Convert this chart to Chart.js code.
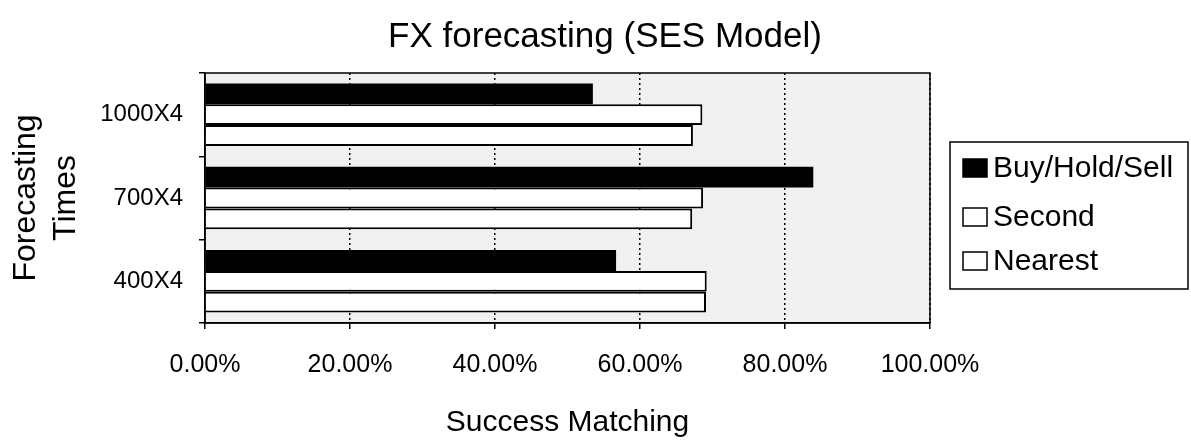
<!DOCTYPE html>
<html>
<head>
<meta charset="utf-8">
<script src="https://cdn.jsdelivr.net/npm/chart.js@4.4.0/dist/chart.umd.min.js"></script>
<style>
  html, body { margin: 0; padding: 0; background: #ffffff; }
  #wrap { width: 1191px; height: 441px; position: relative; }
</style>
</head>
<body>
<div id="wrap"><canvas id="chart" width="1191" height="441"></canvas></div>
<script>
// Categories (top to bottom) and the three series of success ratios
const categories = ['1000X4', '700X4', '400X4'];
const buyHoldSell = [0.535, 0.839, 0.567];
const secondVals  = [0.686, 0.687, 0.692];
const nearestVals = [0.673, 0.672, 0.691];
const seriesNames = ['Buy/Hold/Sell', 'Second', 'Nearest'];
const xTickValues = [0, 0.2, 0.4, 0.6, 0.8, 1.0];

const FONT = "'Liberation Sans', Arial, Helvetica, sans-serif";
const chartTitle = 'FX forecasting (SES Model)';

// Plot-area fill, outer frame, title and boxed legend
const decorations = {
  id: 'decorations',
  beforeDraw(chart) {
    const { ctx, chartArea: a } = chart;
    ctx.save();
    ctx.fillStyle = '#ffffff';
    ctx.fillRect(0, 0, chart.width, chart.height);
    ctx.fillStyle = '#f0f0f0';
    ctx.fillRect(a.left, a.top, a.right - a.left, a.bottom - a.top);
    ctx.restore();
  },
  afterDraw(chart) {
    const { ctx, chartArea: a } = chart;
    ctx.save();
    // frame around the plot
    ctx.strokeStyle = '#000';
    ctx.lineWidth = 1.5;
    ctx.strokeRect(a.left, a.top, a.right - a.left, a.bottom - a.top);

    // title
    ctx.fillStyle = '#000';
    ctx.font = `35px ${FONT}`;
    ctx.textAlign = 'center';
    ctx.textBaseline = 'middle';
    ctx.fillText(chartTitle, 605, 37);

    // legend box
    const box = { x: 950, y: 142, w: 238, h: 147 };
    ctx.fillStyle = '#fff';
    ctx.fillRect(box.x, box.y, box.w, box.h);
    ctx.lineWidth = 1.5;
    ctx.strokeStyle = '#000';
    ctx.strokeRect(box.x, box.y, box.w, box.h);
    const rowsY = [168, 217, 261];
    ctx.font = `30px ${FONT}`;
    ctx.textAlign = 'left';
    ctx.textBaseline = 'middle';
    chart.data.datasets.forEach((ds, i) => {
      const y = rowsY[i];
      ctx.fillStyle = ds.backgroundColor;
      ctx.fillRect(963, y - 9, 24, 18);
      ctx.strokeStyle = '#000';
      ctx.lineWidth = 1.5;
      ctx.strokeRect(963, y - 9, 24, 18);
      ctx.fillStyle = '#000';
      ctx.fillText(ds.label, 993, y + 1);
    });
    ctx.restore();
  }
};

const ctx = document.getElementById('chart').getContext('2d');
new Chart(ctx, {
  type: 'bar',
  data: {
    labels: categories,
    datasets: [
      { label: seriesNames[0], data: buyHoldSell, backgroundColor: '#000000', borderColor: '#000000', borderWidth: 0 },
      { label: seriesNames[1], data: secondVals,  backgroundColor: '#ffffff', borderColor: '#000000', borderWidth: 2 },
      { label: seriesNames[2], data: nearestVals, backgroundColor: '#ffffff', borderColor: '#000000', borderWidth: 2 }
    ]
  },
  options: {
    indexAxis: 'y',
    responsive: false,
    animation: false,
    devicePixelRatio: 1,
    categoryPercentage: 0.75,
    barPercentage: 1.0,
    layout: { padding: { left: 0, right: 261, top: 73, bottom: 0 } },
    plugins: {
      legend: { display: false },
      title: { display: false },
      tooltip: { enabled: false }
    },
    scales: {
      x: {
        type: 'linear',
        min: 0,
        max: 1,
        afterBuildTicks(scale) { scale.ticks = xTickValues.map(v => ({ value: v })); },
        afterFit(scale) { scale.height = 118; },
        ticks: {
          color: '#000',
          font: { family: FONT, size: 25 },
          padding: 21,
          maxRotation: 0,
          callback: v => (v * 100).toFixed(2) + '%'
        },
        grid: {
          color: '#000',
          lineWidth: 1.5,
          tickBorderDash: [],
          tickColor: '#000',
          tickLength: 6,
          drawTicks: true
        },
        border: { display: true, color: '#000', width: 1.5, dash: [2, 3] },
        title: {
          display: true,
          text: 'Success Matching',
          color: '#000',
          font: { family: FONT, size: 30, lineHeight: 1.2 },
          padding: { top: 0, bottom: 0 }
        }
      },
      y: {
        type: 'category',
        afterFit(scale) { scale.width = 205; },
        ticks: {
          color: '#000',
          font: { family: FONT, size: 24 },
          padding: 16
        },
        grid: {
          offset: true,
          drawOnChartArea: false,
          drawTicks: true,
          tickLength: 6,
          tickColor: '#000',
          lineWidth: 1.5
        },
        border: { display: true, color: '#000', width: 1.5 },
        title: {
          display: true,
          text: ['Forecasting', 'Times'],
          color: '#000',
          font: { family: FONT, size: 32, lineHeight: 1.25 },
          padding: { top: 6, bottom: 0 }
        }
      }
    }
  },
  plugins: [decorations]
});
</script>
</body>
</html>
